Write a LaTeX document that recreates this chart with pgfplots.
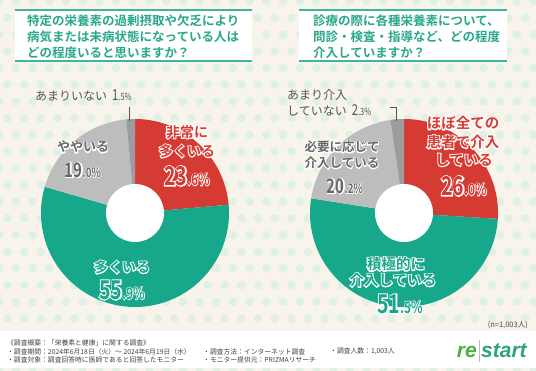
\documentclass[border=0pt]{standalone}
\usepackage{pgfplots}
\pgfplotsset{compat=1.18}
\usepackage{pgfplotstable}
\usepackage{fontspec}
\setmainfont{Noto Sans CJK JP}
\newfontfamily\jpR{Noto Sans CJK JP}
\newfontfamily\jpB{Noto Sans CJK JP Bold}
\newfontfamily\jpBH{Noto Sans CJK JP Bold}[FakeBold=14]
\newfontfamily\numB{Noto Sans CJK JP Bold}[FakeStretch=0.75]
\newfontfamily\numBH{Noto Sans CJK JP Bold}[FakeStretch=0.75,FakeBold=9]
\newfontfamily\numR{Noto Sans CJK JP}[FakeStretch=0.75]
\newfontfamily\logofont{Liberation Sans}

\definecolor{bg}{HTML}{F8F4EB}
\definecolor{dot}{HTML}{E0F0E5}
\definecolor{tealtxt}{HTML}{2AA88A}
\definecolor{tline}{HTML}{3DB79B}
\definecolor{cred}{HTML}{D63B33}
\definecolor{cgreen}{HTML}{17A78A}
\definecolor{cgray}{HTML}{BDBDBD}
\definecolor{cdgray}{HTML}{9C9C9C}
\definecolor{gtxt}{HTML}{666666}
\definecolor{txt}{HTML}{555555}
\definecolor{ftxt}{HTML}{444444}
\definecolor{logore}{HTML}{4DAF3F}
\definecolor{logost}{HTML}{2EA37F}

\pgfplotstableread{
cat value
hijou 23.6
ooi 55.9
yaya 19.0
amari 1.5
}\dataL
\pgfplotstableread{
cat value
hobo 26.0
sekkyoku 51.5
hitsuyou 20.2
amari 2.3
}\dataR

\newcommand{\donutslice}[3]{%
  \pgfplotstablegetelem{#2}{value}\of#1%
  \pgfmathsetmacro\sb{90-3.6*\cum}%
  \pgfmathsetmacro\newcum{\cum+\pgfplotsretval}%
  \pgfmathsetmacro\sa{90-3.6*\newcum}%
  \xdef\cum{\newcum}%
  \edef\temp{\noexpand\addplot[fill=#3,draw=none,domain=\sa:\sb,samples=100,variable=\noexpand\t] ({94*cos(\noexpand\t)},{94*sin(\noexpand\t)}) -- (axis cs:0,0) -- cycle;}%
  \temp}

\newif\ifhalo
\newcommand{\J}[2]{{\fontsize{#1}{#1}\ifhalo\jpBH\else\jpB\fi #2}}
\newcommand{\N}[2]{{\fontsize{#1}{#1}\ifhalo\numBH\else\numB\fi #2}}
\newcommand{\hnode}[4]{%
  \node[text=white,inner sep=0pt] at (#1,#2) {\halotrue #4};
  \node[text=#3,inner sep=0pt] at (#1,#2) {\halofalse #4};}

\begin{document}
\begin{tikzpicture}[x=1pt,y=1pt]
\useasboundingbox (0,0) rectangle (536,371);
\fill[bg] (0,0) rectangle (536,371);
\foreach \j in {0,...,22}{
  \pgfmathsetmacro\yy{371-1.2-16.7*\j}
  \pgfmathsetmacro\xo{mod(\j,2)==1 ? 7.5 : 15.85}
  \foreach \i in {-1,...,32}{
    \fill[dot] (\xo+16.7*\i,\yy) circle[radius=4.3];
  }
}
% footer band
\fill[white] (0,3) rectangle (536,40);
% title boxes
\fill[white] (15,310) rectangle (252,361);
\draw[tline,line width=1.4pt] (15,361) -- (252,361) (15,310) -- (252,310);
\fill[white] (299,310) rectangle (507,361);
\draw[tline,line width=1.4pt] (299,361) -- (507,361) (299,310) -- (507,310);
\begin{scope}[every node/.style={anchor=west,inner sep=0pt,text=tealtxt,font=\fontsize{12.5}{12.5}\jpB}]
\node at (27,350) {特定の栄養素の過剰摂取や欠乏により};
\node at (27,334) {病気または未病状態になっている人は};
\node at (27,318) {どの程度いると思いますか？};
\node at (313,350) {診療の際に各種栄養素について、};
\node at (313,334) {問診・検査・指導など、どの程度};
\node at (313,318) {介入していますか？};
\end{scope}

% left donut
\begin{axis}[at={(135,158)},anchor=center,x=1pt,y=1pt,
  xmin=-100,xmax=100,ymin=-100,ymax=100,hide axis,clip=false]
\gdef\cum{0}
\donutslice\dataL{0}{cred}
\donutslice\dataL{1}{cgreen}
\donutslice\dataL{2}{cgray}
\donutslice\dataL{3}{cdgray}
\fill[white] (axis cs:0,0) circle[radius=29];
\end{axis}
% right donut
\begin{axis}[at={(404,158)},anchor=center,x=1pt,y=1pt,
  xmin=-100,xmax=100,ymin=-100,ymax=100,hide axis,clip=false]
\gdef\cum{0}
\donutslice\dataR{0}{cred}
\donutslice\dataR{1}{cgreen}
\donutslice\dataR{2}{cgray}
\donutslice\dataR{3}{cdgray}
\fill[white] (axis cs:0,0) circle[radius=29];
\end{axis}

% leader lines
\draw[txt,line width=0.6pt] (129.5,264) -- (129.5,250);
\draw[txt,line width=0.6pt] (390,264) -- (396,264) -- (396,250);

% left labels
\hnode{187}{239}{cred}{\J{14}{非常に}}
\hnode{187}{220}{cred}{\J{14}{多くいる}}
\hnode{187}{195}{cred}{\N{26}{23}\N{16}{.6\%}}
\hnode{83}{224}{gtxt}{\J{13}{ややいる}}
\hnode{83}{201}{gtxt}{\N{20}{19}\N{13}{.0\%}}
\hnode{122}{104}{cgreen}{\J{14}{多くいる}}
\hnode{122}{81}{cgreen}{\N{26}{55}\N{16}{.9\%}}
\node[anchor=base west,inner sep=0pt,text=txt] at (35,270) {{\fontsize{12}{12}\jpR あまりいない}\hspace{5pt}{\fontsize{15}{15}\numR 1}{\fontsize{10}{10}\numR .5\%}};

% right labels
\hnode{463}{248}{cred}{\J{14.5}{ほぼ全ての}}
\hnode{463}{229}{cred}{\J{14.5}{患者で介入}}
\hnode{464}{211}{cred}{\J{14.5}{している}}
\hnode{464}{185}{cred}{\N{26}{26}\N{16}{.0\%}}
\hnode{342}{224}{gtxt}{\J{12.5}{必要に応じて}}
\hnode{342}{208}{gtxt}{\J{12.5}{介入している}}
\hnode{345}{185}{gtxt}{\N{20}{20}\N{13}{.2\%}}
\hnode{396}{107}{cgreen}{\J{14.5}{積極的に}}
\hnode{393}{91}{cgreen}{\J{14.5}{介入している}}
\hnode{400}{67}{cgreen}{\N{26}{51}\N{16}{.5\%}}
\node[anchor=base west,inner sep=0pt,text=txt] at (287,271) {\fontsize{12}{12}\jpR あまり介入};
\node[anchor=base west,inner sep=0pt,text=txt] at (287,255) {{\fontsize{12}{12}\jpR していない}\hspace{5pt}{\fontsize{15}{15}\numR 2}{\fontsize{10}{10}\numR .3\%}};

% footer
\begin{scope}[every node/.style={anchor=west,inner sep=0pt,text=ftxt,font=\fontsize{6.8}{6.8}\jpR}]
\node at (7,28) {《調査概要：「栄養素と健康」に関する調査》};
\node at (7,19.5) {・調査期間：2024年6月18日（火）～ 2024年6月19日（水）};
\node at (7,11.5) {・調査対象：調査回答時に医師であると回答したモニター};
\node at (203,19.5) {・調査方法：インターネット調査};
\node at (203,11.5) {・モニター提供元：PRIZMAリサーチ};
\node at (330,19.5) {・調査人数：1,003人};
\end{scope}
\node[anchor=east,inner sep=0pt,text=ftxt,font=\fontsize{7.5}{7.5}\jpR] at (528,46) {(n=1,003人)};
% logo
\node[anchor=base east,inner sep=0pt,text=logore,font=\fontsize{21}{21}\logofont\bfseries\itshape] at (477,13) {re};
\draw[cgray,line width=0.8pt] (479.5,9) -- (479.5,31);
\node[anchor=base west,inner sep=0pt,text=logost,font=\fontsize{21}{21}\logofont\bfseries\itshape] at (481,13) {start};
\end{tikzpicture}
\end{document}
